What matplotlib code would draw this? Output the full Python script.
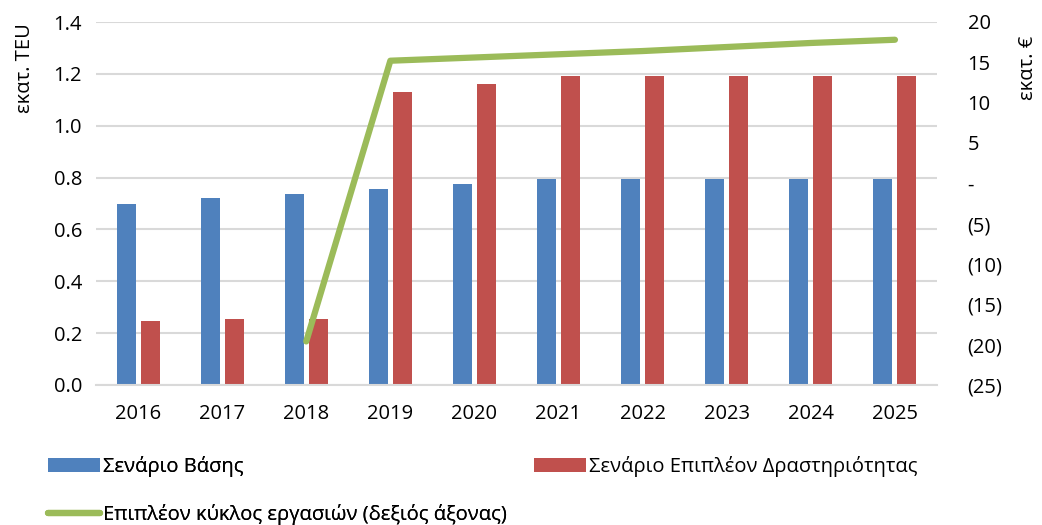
import numpy as np
import matplotlib
matplotlib.use("Agg")
import matplotlib.pyplot as plt
from matplotlib.ticker import FuncFormatter

years = ["2016", "2017", "2018", "2019", "2020", "2021", "2022", "2023", "2024", "2025"]
base_teu = [0.70, 0.72, 0.735, 0.755, 0.775, 0.795, 0.795, 0.795, 0.795, 0.795]
extra_teu = [0.248, 0.253, 0.253, 1.13, 1.16, 1.193, 1.193, 1.193, 1.193, 1.193]
line_years = ["2018", "2019", "2020", "2021", "2022", "2023", "2024", "2025"]
extra_turnover = [-19.6, 15.2, 15.6, 16.0, 16.4, 16.9, 17.4, 17.8]

labels = ["Σενάριο Βάσης", "Σενάριο Επιπλέον Δραστηριότητας",
          "Επιπλέον κύκλος εργασιών (δεξιός άξονας)"]

plt.rcParams["font.family"] = ["Open Sans", "DejaVu Sans"]
plt.rcParams["font.size"] = 14.5

BLUE = "#4f81bd"
RED = "#c0504d"
GREEN = "#9bbb59"
GRID = "#d9d9d9"

fig = plt.figure(figsize=(10.42, 5.25), dpi=100)
ax = fig.add_axes([96 / 1042, 1 - 385 / 525, (937 - 96) / 1042, (385 - 22) / 525])
ax2 = ax.twinx()

x = np.arange(len(years))
w = 0.226
off = 0.143
b1 = ax.bar(x - off, base_teu, w, color=BLUE, zorder=2)
b2 = ax.bar(x + off, extra_teu, w, color=RED, zorder=2)

lx = [years.index(y) for y in line_years]
ln, = ax2.plot(lx, extra_turnover, color=GREEN, lw=4.5, solid_capstyle="round", zorder=3)

ax.set_xlim(-0.5, len(years) - 0.5)
ax.set_ylim(0, 1.4)
ax.set_yticks(np.arange(0, 1.41, 0.2))
ax.yaxis.set_major_formatter(FuncFormatter(lambda v, p: f"{v:.1f}"))
ax.set_xticks(x)
ax.set_xticklabels(years)
ax.grid(axis="y", color=GRID, lw=1.5, zorder=0)
ax.set_axisbelow(True)

ax2.set_ylim(-25, 20)
ax2.set_yticks(np.arange(-25, 21, 5))


def paren(v, p):
    v = int(round(v))
    if v == 0:
        return "-"
    return f"({-v})" if v < 0 else f"{v}"


ax2.yaxis.set_major_formatter(FuncFormatter(paren))

for a in (ax, ax2):
    for s in a.spines.values():
        s.set_visible(False)
    a.tick_params(length=0)
ax.spines["bottom"].set_visible(True)
ax.spines["bottom"].set_color(GRID)
ax.spines["bottom"].set_linewidth(1.5)
ax.tick_params(axis="x", pad=14)
ax.tick_params(axis="y", pad=10)
ax2.tick_params(axis="y", pad=22)

ax.set_ylabel("εκατ. TEU")
ax2.set_ylabel("εκατ. €", rotation=90)
ax.yaxis.set_label_coords(-61 / 841, 0.873)
ax2.yaxis.set_label_coords(1 + 81 / 841, 0.873)

leg_kw = dict(loc="upper left", frameon=False, handlelength=2.6,
              handletextpad=0.15, labelspacing=1.35, borderaxespad=0)
leg1 = fig.legend([b1, ln], [labels[0], labels[2]],
                  bbox_to_anchor=(40 / 1042, 1 - 448 / 525), **leg_kw)
fig.add_artist(leg1)
fig.legend([b2], [labels[1]],
           bbox_to_anchor=(526 / 1042, 1 - 448 / 525), **leg_kw)

fig.savefig("out.png", dpi=100)
